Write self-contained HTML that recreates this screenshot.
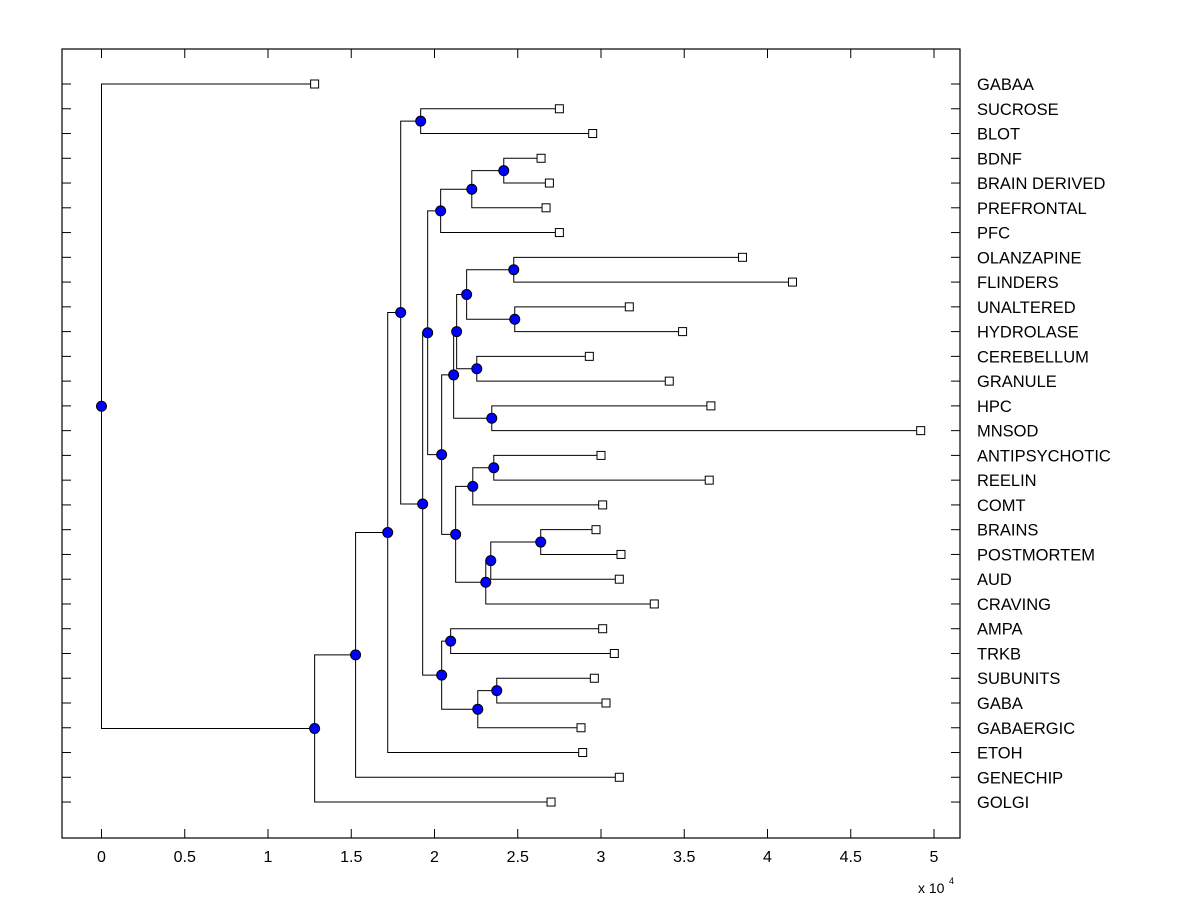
<!DOCTYPE html>
<html><head><meta charset="utf-8"><style>
html,body{margin:0;padding:0;background:#fff;}
svg{display:block;font-family:"Liberation Sans",Arial,sans-serif;}
</style></head><body>
<svg id="chart" width="1200" height="900"></svg>
<script>
const leafNames = ["GABAA","SUCROSE","BLOT","BDNF","BRAIN DERIVED","PREFRONTAL","PFC","OLANZAPINE","FLINDERS","UNALTERED","HYDROLASE","CEREBELLUM","GRANULE","HPC","MNSOD","ANTIPSYCHOTIC","REELIN","COMT","BRAINS","POSTMORTEM","AUD","CRAVING","AMPA","TRKB","SUBUNITS","GABA","GABAERGIC","ETOH","GENECHIP","GOLGI"];
const leafHeights = [1.28,2.75,2.95,2.64,2.69,2.67,2.75,3.85,4.15,3.17,3.49,2.93,3.41,3.66,4.92,3.00,3.65,3.01,2.97,3.12,3.11,3.32,3.01,3.08,2.96,3.03,2.88,2.89,3.11,2.70];
const mergeLeft  = [1,3,31,32,7,9,34,11,36,13,38,15,41,18,43,44,42,40,33,22,24,50,49,48,30,54,55,56,0];
const mergeRight = [2,4,5,6,8,10,35,12,37,14,39,16,17,19,20,21,45,46,47,23,25,26,51,52,53,27,28,29,57];
const mergeHeights = [1.917,2.416,2.224,2.037,2.476,2.482,2.193,2.254,2.133,2.344,2.115,2.356,2.23,2.638,2.338,2.308,2.127,2.043,1.959,2.097,2.374,2.26,2.043,1.929,1.797,1.719,1.526,1.28,0];
const xTicks = [0,0.5,1,1.5,2,2.5,3,3.5,4,4.5,5];
const xTickLabels = ["0","0.5","1","1.5","2","2.5","3","3.5","4","4.5","5"];

const NS="http://www.w3.org/2000/svg";
const svg=document.getElementById('chart');
const L=62,R=960,T=49,B=838;
const xs=v=>101.5+v*166.5;
const ys=i=>84+i*24.76;
function mk(tag,attrs,parent){const e=document.createElementNS(NS,tag);for(const k in attrs)e.setAttribute(k,attrs[k]);(parent||svg).appendChild(e);return e;}

const axes=mk('g',{});


const box=mk('rect',{x:L,y:T,width:R-L,height:B-T,fill:'none',stroke:'#000','stroke-width':1.2},axes);


xTicks.forEach((v,i)=>{
  const x=xs(v);
  mk('line',{x1:x,y1:B,x2:x,y2:B-9,stroke:'#000'},axes);
  mk('line',{x1:x,y1:T,x2:x,y2:T+9,stroke:'#000'},axes);
  const t=mk('text',{x:x,y:862,'font-size':16,'text-anchor':'middle'},axes);
  t.textContent=xTickLabels[i];
  
  
});
const sc=mk('text',{x:918,y:893,'font-size':14},axes);
sc.textContent='x 10';


const sc2=mk('text',{x:949,y:884,'font-size':9},axes);
sc2.textContent='4';


leafNames.forEach((n,i)=>{
  const y=ys(i);
  mk('line',{x1:L,y1:y,x2:L+9,y2:y,stroke:'#000'},axes);
  mk('line',{x1:R,y1:y,x2:R-9,y2:y,stroke:'#000'},axes);
  const t=mk('text',{x:977,y:y+6,'font-size':16.5},axes);
  t.textContent=n;
  
  
});

const N=leafNames.length;
const nx=[],ny=[];
for(let i=0;i<N;i++){nx[i]=leafHeights[i];ny[i]=ys(i);}
for(let k=0;k<mergeLeft.length;k++){const a=mergeLeft[k],b=mergeRight[k];nx[N+k]=mergeHeights[k];ny[N+k]=(ny[a]+ny[b])/2;}
const links=mk('g',{stroke:'#000','stroke-width':1,fill:'none'});


for(let k=0;k<mergeLeft.length;k++){
  const id=N+k,x=xs(nx[id]);
  [mergeLeft[k],mergeRight[k]].forEach(c=>{
    const p=mk('path',{d:`M${x},${ny[id]}V${ny[c]}H${xs(nx[c])}`},links);
    
    
  });
}
for(let i=0;i<N;i++){
  const r=mk('rect',{x:xs(nx[i])-4,y:ny[i]-4,width:8,height:8,fill:'#fff',stroke:'#000'});
  
  
}
for(let k=0;k<mergeLeft.length;k++){
  const id=N+k;
  const c=mk('circle',{cx:xs(nx[id]),cy:ny[id],r:5,fill:'#0000ff',stroke:'#000','stroke-width':1});
  
  
}
</script>
</body></html>
